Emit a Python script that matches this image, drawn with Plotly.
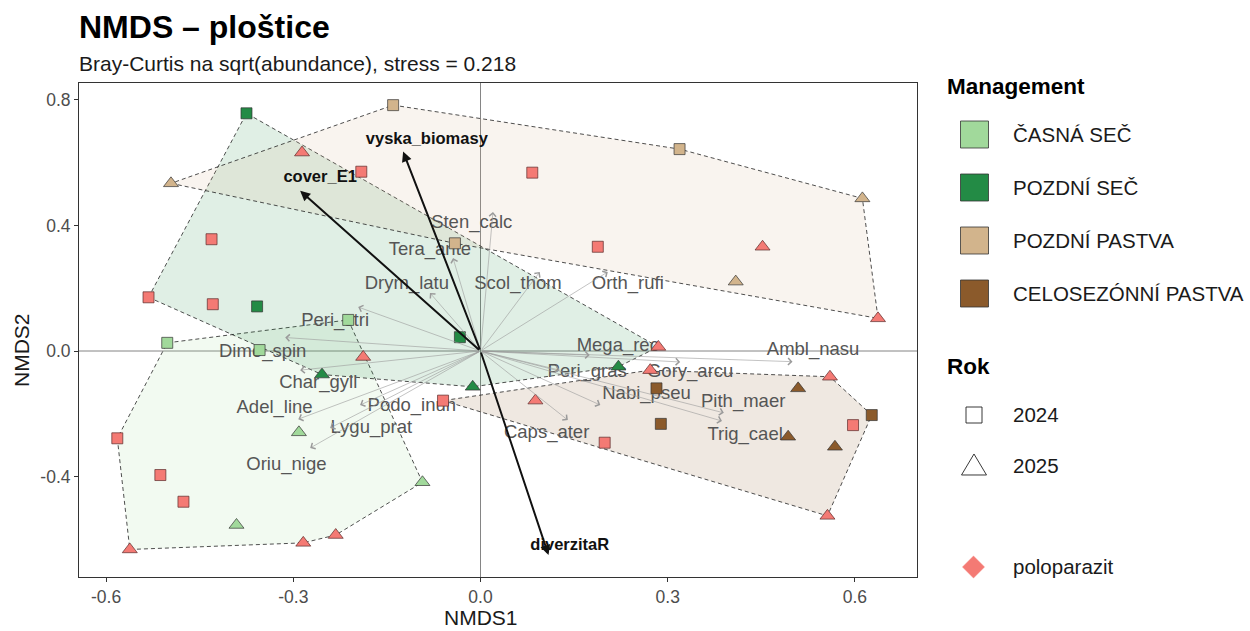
import plotly.graph_objects as go

# ---------------- data ----------------
mgmt_levels = ["ČASNÁ SEČ", "POZDNÍ SEČ", "POZDNÍ PASTVA", "CELOSEZÓNNÍ PASTVA"]
mgmt_colors = ["#a1d99b", "#238b45", "#d2b48c", "#8b5a2b"]
rok_levels = ["2024", "2025"]
polo_label = "poloparazit"
polo_color = "#f47a74"

site_mgmt = (["ČASNÁ SEČ"] * 13 + ["POZDNÍ SEČ"] * 11 +
             ["POZDNÍ PASTVA"] * 11 + ["CELOSEZÓNNÍ PASTVA"] * 13)
site_rok = ["2024", "2024", "2024", "2025", "2025", "2025", "2024", "2024", "2024", "2025", "2025", "2025", "2025",
            "2024", "2024", "2024", "2025", "2025", "2025", "2024", "2024", "2024", "2025", "2025",
            "2025", "2024", "2024", "2025", "2025", "2024", "2025", "2025", "2024", "2024", "2024",
            "2024", "2024", "2024", "2025", "2025", "2025", "2024", "2024", "2024", "2025", "2025", "2025", "2025"]
site_polo = [0, 0, 0, 0, 0, 0, 1, 1, 1, 1, 1, 1, 1,
             0, 0, 0, 0, 0, 0, 1, 1, 1, 1, 1,
             0, 0, 0, 0, 0, 0, 1, 1, 1, 1, 1,
             0, 0, 0, 0, 0, 0, 1, 1, 1, 1, 1, 1, 1]
nmds1 = [-0.502, -0.354, -0.212, -0.291, -0.391, -0.093, -0.582, -0.513, -0.476, -0.562, -0.284, -0.232, -0.188,
         -0.375, -0.358, -0.033, -0.254, -0.0125, 0.221, -0.532, -0.431, -0.429, 0.285, -0.286,
         -0.496, -0.140, 0.319, 0.612, 0.409, -0.041, 0.637, 0.452, 0.188, 0.083, -0.191,
         0.282, 0.289, 0.627, 0.509, 0.493, 0.568, -0.060, 0.199, 0.597, 0.088, 0.272, 0.560, 0.556]
nmds2 = [0.026, 0.003, 0.099, -0.259, -0.554, -0.418, -0.278, -0.395, -0.480, -0.632, -0.611, -0.586, -0.019,
         0.757, 0.142, 0.044, -0.075, -0.114, -0.050, 0.171, 0.356, 0.149, 0.013, 0.632,
         0.534, 0.783, 0.643, 0.486, 0.221, 0.343, 0.104, 0.332, 0.332, 0.568, 0.571,
         -0.119, -0.232, -0.204, -0.119, -0.273, -0.305, -0.158, -0.292, -0.236, -0.158, -0.061, -0.082, -0.525]

species = ["Sten_calc", "Tera_ante", "Drym_latu", "Scol_thom", "Orth_rufi", "Peri_stri", "Dimo_spin",
           "Char_gyll", "Adel_line", "Lygu_prat", "Podo_inun", "Oriu_nige", "Caps_ater", "Nabi_pseu",
           "Peri_gras", "Mega_rec", "Gory_arcu", "Ambl_nasu", "Pith_maer", "Trig_cael"]
sp_x = [0.020, -0.044, -0.081, 0.095, 0.204, -0.196, -0.313, -0.289, -0.292, -0.241, -0.193, -0.273,
        0.140, 0.192, 0.127, 0.175, 0.320, 0.500, 0.390, 0.387]
sp_y = [0.443, 0.296, 0.185, 0.252, 0.252, 0.140, 0.043, -0.061, -0.217, -0.245, -0.172, -0.309,
        -0.220, -0.172, -0.061, -0.013, -0.035, -0.034, -0.197, -0.223]
sp_lab_x = [-0.014, -0.081, -0.118, 0.060, 0.236, -0.233, -0.349, -0.260, -0.330, -0.175, -0.110, -0.311,
            0.106, 0.266, 0.171, 0.220, 0.336, 0.533, 0.421, 0.424]
sp_lab_y = [0.407, 0.322, 0.213, 0.213, 0.213, 0.093, -0.004, -0.103, -0.182, -0.245, -0.175, -0.363,
            -0.262, -0.137, -0.067, 0.014, -0.067, 0.001, -0.165, -0.268]

env_names = ["cover_E1", "vyska_biomasy", "diverzitaR"]
env_x = [-0.289, -0.124, 0.109]
env_y = [0.510, 0.635, -0.650]
env_lab_x = [-0.257, -0.086, 0.143]
env_lab_y = [0.551, 0.672, -0.621]

x_ticks = [-0.6, -0.3, 0.0, 0.3, 0.6]
x_ticktext = ["-0.6", "-0.3", "0.0", "0.3", "0.6"]
y_ticks = [-0.4, 0.0, 0.4, 0.8]
y_ticktext = ["-0.4", "0.0", "0.4", "0.8"]
x_range = [-0.6434, 0.6995]
y_range = [-0.7197, 0.8535]

title = "<b>NMDS – ploštice</b>"
subtitle = "Bray-Curtis na sqrt(abundance), stress = 0.218"

FONT = "Liberation Sans, Arial, sans-serif"


def hex_rgba(h, a):
    h = h.lstrip("#")
    return "rgba(%d,%d,%d,%.3f)" % (int(h[0:2], 16), int(h[2:4], 16), int(h[4:6], 16), a)


def convex_hull(pts):
    pts = sorted(set(pts))
    if len(pts) < 3:
        return pts

    def cross(o, a, b):
        return (a[0] - o[0]) * (b[1] - o[1]) - (a[1] - o[1]) * (b[0] - o[0])
    lower, upper = [], []
    for p in pts:
        while len(lower) >= 2 and cross(lower[-2], lower[-1], p) <= 0:
            lower.pop()
        lower.append(p)
    for p in reversed(pts):
        while len(upper) >= 2 and cross(upper[-2], upper[-1], p) <= 0:
            upper.pop()
        upper.append(p)
    return lower[:-1] + upper[:-1]


fig = go.Figure()

# hulls
for m, c in zip(mgmt_levels, mgmt_colors):
    pts = [(x, y) for x, y, g in zip(nmds1, nmds2, site_mgmt) if g == m]
    hull = convex_hull(pts)
    hx = [p[0] for p in hull] + [hull[0][0]]
    hy = [p[1] for p in hull] + [hull[0][1]]
    fig.add_trace(go.Scatter(x=hx, y=hy, mode="lines", fill="toself",
                             fillcolor=hex_rgba(c, 0.14),
                             line=dict(color="#222222", width=0.8, dash="4px,3px"),
                             hoverinfo="skip"))

# species labels
fig.add_trace(go.Scatter(x=sp_lab_x, y=sp_lab_y, mode="text", text=species,
                         textfont=dict(family=FONT, size=18.5, color="#555555"),
                         hoverinfo="skip"))

# env labels
fig.add_trace(go.Scatter(x=env_lab_x, y=env_lab_y, mode="text", text=["<b>%s</b>" % n for n in env_names],
                         textfont=dict(family=FONT, size=16.5, color="#111111"),
                         hoverinfo="skip"))

# points
sym = {"2024": "square", "2025": "triangle-up"}
size = {"2024": 11, "2025": 13}
for m, c in zip(mgmt_levels, mgmt_colors):
    for r in rok_levels:
        for pflag in (0, 1):
            xs = [x for x, g, rr, p in zip(nmds1, site_mgmt, site_rok, site_polo) if g == m and rr == r and p == pflag]
            ys = [y for y, g, rr, p in zip(nmds2, site_mgmt, site_rok, site_polo) if g == m and rr == r and p == pflag]
            if not xs:
                continue
            fig.add_trace(go.Scatter(
                x=xs, y=ys, mode="markers",
                marker=dict(symbol=sym[r], size=size[r],
                            color=polo_color if pflag else c,
                            line=dict(color="#5a2a2a" if pflag else "#333333", width=0.7)),
                hoverinfo="skip"))

annotations = []
# species arrows
for x, y in zip(sp_x, sp_y):
    annotations.append(dict(x=x, y=y, ax=0, ay=0, xref="x", yref="y", axref="x", ayref="y",
                            text="", showarrow=True, arrowhead=4, arrowsize=2.2, arrowwidth=0.6,
                            arrowcolor="#9a9a9a"))
# env arrows
for x, y in zip(env_x, env_y):
    annotations.append(dict(x=x, y=y, ax=0, ay=0, xref="x", yref="y", axref="x", ayref="y",
                            text="", showarrow=True, arrowhead=2, arrowsize=1.0, arrowwidth=2.0,
                            arrowcolor="#111111"))

# layout helpers (pixel -> paper)
L, T, W, H = 79, 83, 838, 494


def px(v):
    return (v - L) / W


def py(v):
    return (T + H - v) / H


annotations += [
    dict(text=title, x=px(77), y=py(27), xref="paper", yref="paper", xanchor="left", yanchor="middle",
         showarrow=False, font=dict(family=FONT, size=32, color="#000000")),
    dict(text=subtitle, x=px(77), y=py(63), xref="paper", yref="paper", xanchor="left", yanchor="middle",
         showarrow=False, font=dict(family=FONT, size=21, color="#1a1a1a")),
    dict(text="NMDS1", x=px(481), y=py(617), xref="paper", yref="paper", xanchor="center", yanchor="middle",
         showarrow=False, font=dict(family=FONT, size=21, color="#1a1a1a")),
    dict(text="NMDS2", x=px(22), y=py(350), xref="paper", yref="paper", xanchor="center", yanchor="middle",
         textangle=-90, showarrow=False, font=dict(family=FONT, size=21, color="#1a1a1a")),
    dict(text="<b>Management</b>", x=px(945), y=py(87), xref="paper", yref="paper", xanchor="left",
         yanchor="middle", showarrow=False, font=dict(family=FONT, size=22.5, color="#000000")),
    dict(text="<b>Rok</b>", x=px(945), y=py(366), xref="paper", yref="paper", xanchor="left",
         yanchor="middle", showarrow=False, font=dict(family=FONT, size=22.5, color="#000000")),
]

LEG_FONT = dict(family=FONT, size=20.5, color="#1a1a1a")
shapes = []
key_cy = [134.5, 187.5, 240.5, 293.5]
for m, c, cy in zip(mgmt_levels, mgmt_colors, key_cy):
    shapes.append(dict(type="rect", xref="paper", yref="paper", x0=px(960.5), x1=px(988.5),
                       y0=py(cy + 13.5), y1=py(cy - 13.5), fillcolor=c,
                       line=dict(color="#333333", width=0.8)))
    annotations.append(dict(text=m, x=px(1011), y=py(cy), xref="paper", yref="paper", xanchor="left",
                            yanchor="middle", showarrow=False, font=LEG_FONT))
# Rok keys
shapes.append(dict(type="rect", xref="paper", yref="paper", x0=px(966), x1=px(982), y0=py(423), y1=py(407),
                   line=dict(color="#222222", width=0.9), fillcolor="rgba(0,0,0,0)"))
annotations.append(dict(text=rok_levels[0], x=px(1011), y=py(414), xref="paper", yref="paper", xanchor="left",
                        yanchor="middle", showarrow=False, font=LEG_FONT))
shapes.append(dict(type="path", xref="paper", yref="paper",
                   path="M %f,%f L %f,%f L %f,%f Z" % (px(974), py(454), px(961.5), py(475), px(986.5), py(475)),
                   line=dict(color="#222222", width=0.9), fillcolor="rgba(0,0,0,0)"))
annotations.append(dict(text=rok_levels[1], x=px(1011), y=py(466), xref="paper", yref="paper", xanchor="left",
                        yanchor="middle", showarrow=False, font=LEG_FONT))
# poloparazit key
shapes.append(dict(type="path", xref="paper", yref="paper",
                   path="M %f,%f L %f,%f L %f,%f L %f,%f Z" % (px(973.5), py(556), px(984.5), py(567),
                                                              px(973.5), py(578), px(962.5), py(567)),
                   line=dict(color=polo_color, width=0.5), fillcolor=polo_color))
annotations.append(dict(text=polo_label, x=px(1011), y=py(566), xref="paper", yref="paper", xanchor="left",
                        yanchor="middle", showarrow=False, font=LEG_FONT))

# zero lines
shapes.append(dict(type="line", xref="x", yref="paper", x0=0, x1=0, y0=0, y1=1,
                   line=dict(color="#666666", width=0.8), layer="below"))
shapes.append(dict(type="line", xref="paper", yref="y", x0=0, x1=1, y0=0, y1=0,
                   line=dict(color="#666666", width=0.8), layer="below"))

axis_common = dict(showgrid=False, zeroline=False, showline=True, mirror=True, linecolor="#333333",
                   linewidth=1, ticks="outside", ticklen=4, tickcolor="#333333", tickwidth=1,
                   automargin=False,
                   tickfont=dict(family=FONT, size=17.5, color="#4d4d4d"))
fig.update_layout(
    width=1250, height=631,
    margin=dict(l=L, r=1250 - L - W, t=T, b=631 - T - H, autoexpand=False),
    plot_bgcolor="white", paper_bgcolor="white",
    showlegend=False,
    xaxis=dict(range=x_range, tickvals=x_ticks, ticktext=x_ticktext, **axis_common),
    yaxis=dict(range=y_range, tickvals=y_ticks, ticktext=y_ticktext, **axis_common),
    annotations=annotations,
    shapes=shapes,
)

fig.write_html("out.html", config={"displayModeBar": False},
               post_script="document.body.style.margin='0';document.body.style.overflow='hidden';")
